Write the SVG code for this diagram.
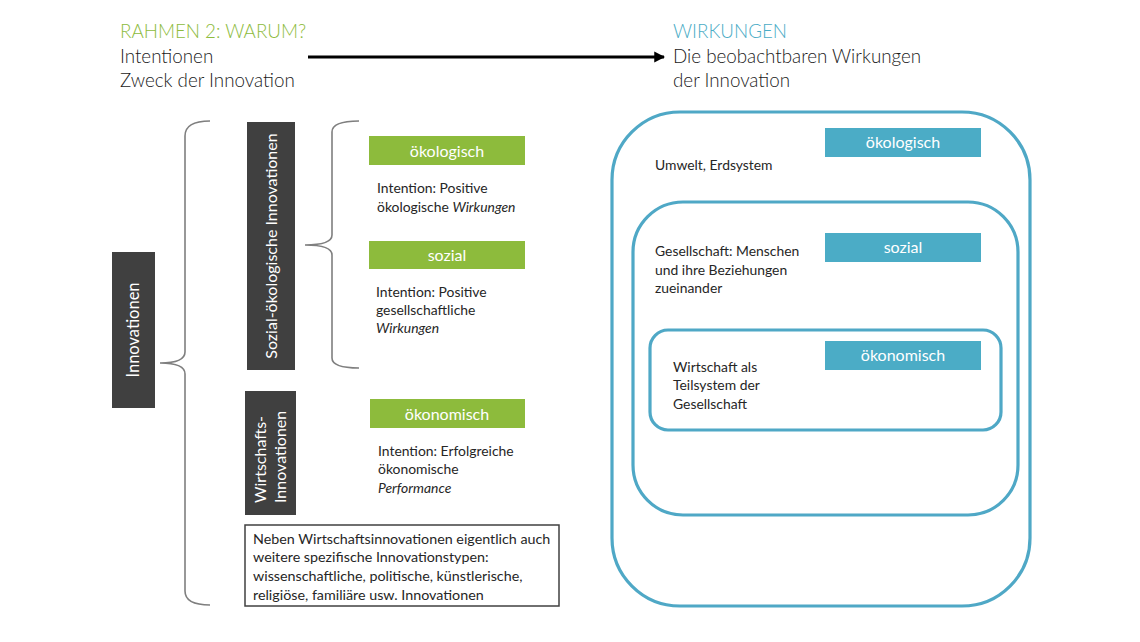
<svg xmlns="http://www.w3.org/2000/svg" width="1140" height="642" viewBox="0 0 1140 642">
<defs>
<style>
text{font-family:Lato,"Open Sans","Liberation Sans",sans-serif;fill:#262626}
.hd{font-size:18.8px;font-weight:300;fill:#1a1a1a}
.body{font-size:13.9px}
.note{font-size:14.3px}
.lbl{font-size:16px;fill:#fff;text-anchor:middle}
.rot{font-size:16px;fill:#fff}
.green{fill:#8dbb3c}
.blue{fill:#4bacc6}
.dark{fill:#404040}
.ring{fill:none;stroke:#4fa8c6;stroke-width:3.2}
.brace{fill:none;stroke:#7f7f7f;stroke-width:1.6}
</style>
<marker id="ah" viewBox="0 0 10 10" refX="9" refY="5" markerWidth="3.6" markerHeight="4.4" orient="auto" markerUnits="strokeWidth">
<path d="M0,0 L10,5 L0,10 z" fill="#000"/>
</marker>
</defs>
<rect width="1140" height="642" fill="#fff"/>

<g id="header-left">
<text class="hd" x="120" y="38" style="fill:#8dbb3c">RAHMEN 2: WARUM?</text>
<text class="hd" x="120" y="63">Intentionen</text>
<text class="hd" x="120" y="87">Zweck der Innovation</text>
</g>
<g id="header-right">
<text class="hd" x="673" y="38" style="fill:#4bacc6">WIRKUNGEN</text>
<text class="hd" x="673" y="63">Die beobachtbaren Wirkungen</text>
<text class="hd" x="673" y="87">der Innovation</text>
</g>

<g id="connectors">
<line x1="308" y1="57" x2="664" y2="57" stroke="#000" stroke-width="3" marker-end="url(#ah)"/>
<path class="brace" d="M210,121 Q185,121 185,136 L185,352 Q185,363 160,363 Q185,363 185,374 L185,591 Q185,605 210,605"/>
<path class="brace" d="M359,121 Q332,121 332,132 L332,235 Q332,245 305,245 Q332,245 332,255 L332,358 Q332,368 359,368"/>
</g>

<g id="innovationen">
<rect class="dark" x="112" y="252" width="43" height="156"/>
<text class="rot" transform="translate(139,330) rotate(-90)" text-anchor="middle" style="font-size:16.5px">Innovationen</text>
</g>

<g id="sozial-oekologische">
<rect class="dark" x="247" y="122" width="48" height="248"/>
<text class="rot" transform="translate(277,246) rotate(-90)" text-anchor="middle">Sozial-ökologische Innovationen</text>
</g>

<g id="wirtschafts">
<rect class="dark" x="245" y="391" width="51" height="124"/>
<text class="rot" transform="translate(266,503) rotate(-90)">Wirtschafts-</text>
<text class="rot" transform="translate(286,503) rotate(-90)">Innovationen</text>
</g>

<g id="int-oekologisch">
<rect class="green" x="369" y="136" width="156" height="29"/>
<text class="lbl" x="447" y="157">ökologisch</text>
<text class="body" x="377" y="193">Intention: Positive</text>
<text class="body" x="377" y="212">ökologische <tspan font-style="italic">Wirkungen</tspan></text>
</g>

<g id="int-sozial">
<rect class="green" x="369" y="241" width="156" height="28"/>
<text class="lbl" x="447" y="261">sozial</text>
<text class="body" x="376" y="297">Intention: Positive</text>
<text class="body" x="376" y="315">gesellschaftliche</text>
<text class="body" x="376" y="333" font-style="italic">Wirkungen</text>
</g>

<g id="int-oekonomisch">
<rect class="green" x="370" y="399" width="155" height="29"/>
<text class="lbl" x="447" y="420">ökonomisch</text>
<text class="body" x="378" y="456">Intention: Erfolgreiche</text>
<text class="body" x="378" y="474">ökonomische</text>
<text class="body" x="378" y="493" font-style="italic">Performance</text>
</g>

<g id="note">
<rect x="245" y="525" width="314" height="81" fill="#fff" stroke="#404040" stroke-width="1.5"/>
<text class="note" x="253" y="544">Neben Wirtschaftsinnovationen eigentlich auch</text>
<text class="note" x="253" y="562">weitere spezifische Innovationstypen:</text>
<text class="note" x="253" y="581">wissenschaftliche, politische, künstlerische,</text>
<text class="note" x="253" y="600">religiöse, familiäre usw. Innovationen</text>
</g>

<g id="wirk-umwelt">
<rect class="ring" x="612" y="112" width="418" height="494" rx="68" ry="68"/>
<rect class="blue" x="825" y="128" width="156" height="29"/>
<text class="lbl" x="903" y="148">ökologisch</text>
<text class="body" x="655" y="170">Umwelt, Erdsystem</text>
</g>

<g id="wirk-gesellschaft">
<rect class="ring" x="633" y="202" width="385" height="313" rx="50" ry="50"/>
<rect class="blue" x="825" y="233" width="156" height="29"/>
<text class="lbl" x="903" y="253">sozial</text>
<text class="body" x="655" y="256">Gesellschaft: Menschen</text>
<text class="body" x="655" y="275">und ihre Beziehungen</text>
<text class="body" x="655" y="293">zueinander</text>
</g>

<g id="wirk-wirtschaft">
<rect class="ring" x="650" y="330" width="351" height="100" rx="18" ry="18"/>
<rect class="blue" x="825" y="341" width="156" height="29"/>
<text class="lbl" x="903" y="361">ökonomisch</text>
<text class="body" x="673" y="372">Wirtschaft als</text>
<text class="body" x="673" y="390">Teilsystem der</text>
<text class="body" x="673" y="409">Gesellschaft</text>
</g>
</svg>
